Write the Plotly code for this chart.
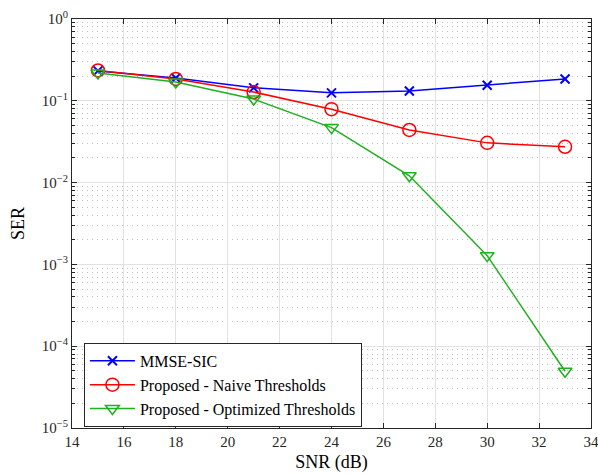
import plotly.graph_objects as go

snr = [15, 18, 21, 24, 27, 30, 33]
mmse_sic = [0.232, 0.19, 0.144, 0.125, 0.132, 0.155, 0.185]
naive = [0.235, 0.185, 0.128, 0.079, 0.044, 0.0306, 0.0274]
optimized = [0.219, 0.17, 0.105, 0.047, 0.0121, 0.00128, 4.94e-5]

y_tickvals = [1e0, 1e-1, 1e-2, 1e-3, 1e-4, 1e-5]
y_ticktext = ["10<sup>0</sup>", "10<sup>−1</sup>", "10<sup>−2</sup>",
              "10<sup>−3</sup>", "10<sup>−4</sup>", "10<sup>−5</sup>"]
x_tickvals = [14, 16, 18, 20, 22, 24, 26, 28, 30, 32, 34]

FONT = "Liberation Serif"
green = "rgb(30,176,30)"

fig = go.Figure()
fig.add_trace(go.Scatter(x=snr, y=mmse_sic, mode="lines+markers", name="MMSE-SIC",
                         line=dict(color="rgb(0,0,255)", width=1.5),
                         marker=dict(symbol="x-thin", size=9, line=dict(color="rgb(0,0,255)", width=2))))
fig.add_trace(go.Scatter(x=snr, y=naive, mode="lines+markers", name="Proposed - Naive Thresholds",
                         line=dict(color="rgb(255,0,0)", width=1.5),
                         marker=dict(symbol="circle-open", size=13, line=dict(color="rgb(255,0,0)", width=1.5))))
fig.add_trace(go.Scatter(x=snr, y=optimized, mode="lines+markers", name="Proposed - Optimized Thresholds",
                         line=dict(color=green, width=1.5),
                         marker=dict(symbol="triangle-down-open", size=12, line=dict(color=green, width=1.5))))

fig.update_layout(
    width=598, height=475,
    margin=dict(l=72, r=7, t=19, b=47, autoexpand=False),
    paper_bgcolor="white", plot_bgcolor="white",
    font=dict(family=FONT, size=15, color="rgb(38,38,38)"),
    showlegend=True,
    legend=dict(x=0.023, y=0.208, xanchor="left", yanchor="top",
                bgcolor="white", bordercolor="rgb(38,38,38)", borderwidth=1,
                font=dict(family=FONT, size=16, color="black"),
                tracegroupgap=0, itemwidth=45),
)
fig.update_xaxes(range=[14, 34], tickvals=x_tickvals, automargin=False, ticklabeloverflow="allow",
                 showgrid=True, gridcolor="rgb(226,226,226)", gridwidth=1,
                 ticks="inside", ticklen=5, tickcolor="rgb(38,38,38)",
                 showline=True, linecolor="rgb(38,38,38)", linewidth=1, mirror="allticks",
                 zeroline=False,
                 title=dict(text="SNR (dB)", font=dict(family=FONT, size=18, color="black"), standoff=6),
                 tickfont=dict(family=FONT, size=15, color="rgb(38,38,38)"))
fig.update_yaxes(type="log", range=[-5, 0], tickvals=y_tickvals, ticktext=y_ticktext, automargin=False,
                 ticklabeloverflow="allow",
                 showgrid=True, gridcolor="rgb(226,226,226)", gridwidth=1,
                 ticks="inside", ticklen=5, tickcolor="rgb(38,38,38)",
                 showline=True, linecolor="rgb(38,38,38)", linewidth=1, mirror="allticks",
                 zeroline=False,
                 minor=dict(showgrid=True, griddash="1px,4px", gridcolor="rgb(190,190,190)", gridwidth=1,
                            ticks="inside", ticklen=3, tickcolor="rgb(38,38,38)",
                            dtick="D1"),
                 title=dict(text="SER", font=dict(family=FONT, size=18, color="black"), standoff=12),
                 tickfont=dict(family=FONT, size=15, color="rgb(38,38,38)"))

fig.write_html("out.html", config={"displayModeBar": False},
               post_script="document.body.style.margin='0px';document.body.style.overflow='hidden';")
